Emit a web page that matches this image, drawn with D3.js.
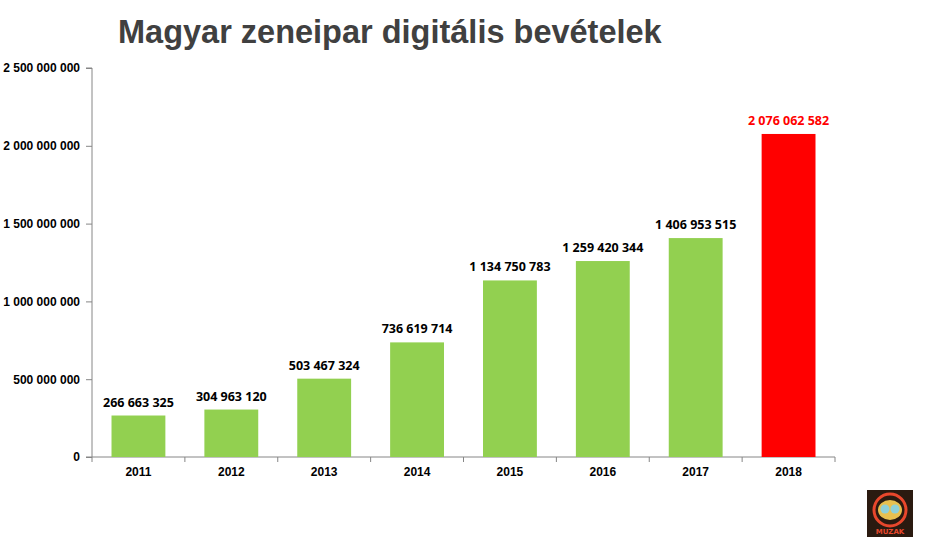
<!DOCTYPE html>
<html><head><meta charset="utf-8">
<script src="https://cdn.jsdelivr.net/npm/d3@7"></script>
<style>body{margin:0;background:#fff}svg{display:block}</style>
</head><body>
<svg id="c" width="930" height="540"></svg>
<script>
const title = "Magyar zeneipar digitális bevételek";
const years = ["2011","2012","2013","2014","2015","2016","2017","2018"];
const revenues = [266663325, 304963120, 503467324, 736619714, 1134750783, 1259420344, 1406953515, 2076062582];
const yTicks = [0, 500000000, 1000000000, 1500000000, 2000000000, 2500000000];

const fmt = v => d3.format(",")(v).replace(/,/g, " ");
const svg = d3.select("#c");
const x = d3.scaleBand().domain(years).range([92, 835]).paddingInner(0.42).paddingOuter(0.21);
const y = d3.scaleLinear().domain([0, 2500000000]).range([457, 68]);

svg.append("text").attr("x", 118).attr("y", 43)
  .attr("font-family", "Liberation Sans, Arial, sans-serif").attr("font-weight", "bold")
  .attr("font-size", 32.5).attr("fill", "#404040").text(title);

const yAxis = svg.append("g").attr("transform", "translate(92,0)")
  .call(d3.axisLeft(y).tickValues(yTicks).tickFormat(fmt).tickSize(6).tickPadding(6));
yAxis.select(".domain").attr("stroke", "#868686").attr("d", `M-6,${y(2500000000)}H0V${y(0)}H-6`);
yAxis.selectAll(".tick line").attr("stroke", "#868686");
yAxis.selectAll("text").attr("font-family", "Liberation Sans, Arial, sans-serif")
  .attr("font-weight", "bold").attr("font-size", 12).attr("fill", "#000");

const xAxis = svg.append("g").attr("transform", `translate(0,${y(0)})`)
  .call(d3.axisBottom(x).tickSize(0).tickPadding(10));
xAxis.select(".domain").attr("stroke", "#868686").attr("d", `M92,0H835`);
xAxis.selectAll("text").attr("font-family", "Liberation Sans, Arial, sans-serif")
  .attr("font-weight", "bold").attr("font-size", 12).attr("fill", "#000");
const step = x.step();
xAxis.selectAll(".bound").data(d3.range(years.length + 1)).enter().append("line")
  .attr("x1", i => 92 + i * step).attr("x2", i => 92 + i * step)
  .attr("y1", 0).attr("y2", 5).attr("stroke", "#868686");

svg.append("g").selectAll("rect").data(years).enter().append("rect")
  .attr("x", d => x(d)).attr("width", x.bandwidth())
  .attr("y", (d, i) => y(revenues[i])).attr("height", (d, i) => y(0) - y(revenues[i]))
  .attr("fill", (d, i) => i === years.length - 1 ? "#ff0000" : "#92d050");

svg.append("g").selectAll("text").data(years).enter().append("text")
  .attr("x", d => x(d) + x.bandwidth() / 2).attr("y", (d, i) => y(revenues[i]) - 9)
  .attr("text-anchor", "middle").attr("font-family", "Open Sans, Carlito, Calibri, sans-serif")
  .attr("font-weight", "bold").attr("font-size", 12.5)
  .attr("fill", (d, i) => i === years.length - 1 ? "#ff0000" : "#000")
  .text((d, i) => fmt(revenues[i]));

// small logo in the corner
const logo = svg.append("g").attr("transform", "translate(867,490)");
logo.append("rect").attr("width", 46).attr("height", 47).attr("fill", "#2a1a10");
logo.append("circle").attr("cx", 23).attr("cy", 20).attr("r", 16).attr("fill", "none").attr("stroke", "#e8472c").attr("stroke-width", 3);
logo.append("ellipse").attr("cx", 23).attr("cy", 20).attr("rx", 12).attr("ry", 10).attr("fill", "#e8c050");
logo.append("circle").attr("cx", 18).attr("cy", 19).attr("r", 4.5).attr("fill", "#8fd0d8");
logo.append("circle").attr("cx", 28).attr("cy", 19).attr("r", 4.5).attr("fill", "#8fd0d8");
logo.append("text").attr("x", 23).attr("y", 44).attr("text-anchor", "middle")
  .attr("font-family", "DejaVu Sans, sans-serif").attr("font-weight", "bold").attr("font-size", 7).attr("fill", "#e8472c").text("MUZAK");
</script>
</body></html>
